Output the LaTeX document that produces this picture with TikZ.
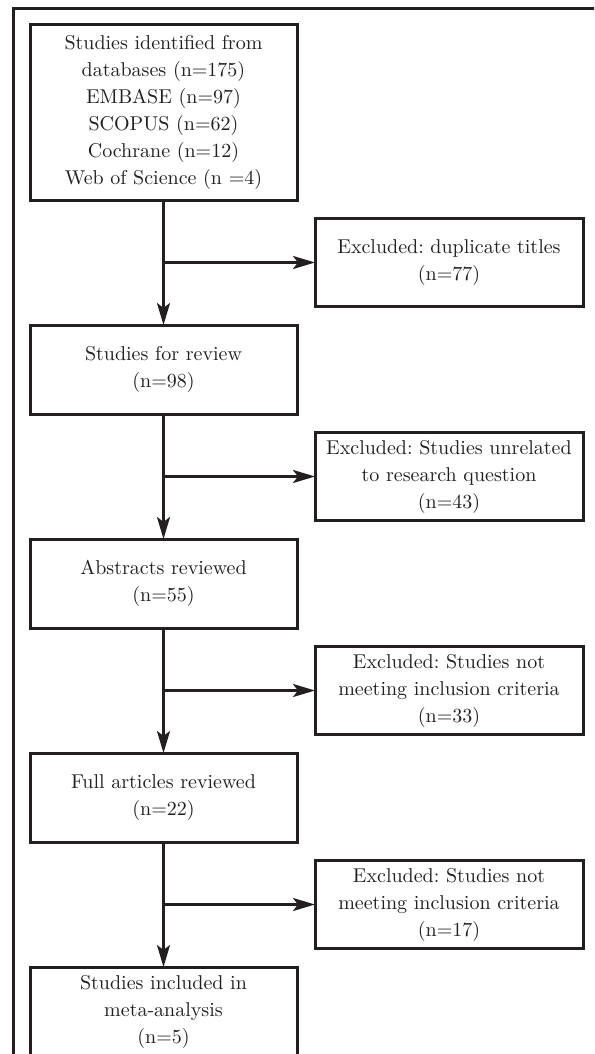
\documentclass[tikz,border=0pt]{standalone}
\usepackage{tikz}
\usetikzlibrary{arrows.meta,positioning}
\definecolor{ink}{RGB}{35,31,32}
\frenchspacing

\begin{document}
\begin{tikzpicture}[->,>={Stealth[length=11pt,width=6.5pt,inset=2.5pt]},line width=1.3pt,color=ink,node distance=62.5pt]
    \tikzstyle{every node}=[font=\fontsize{10}{13.5}\selectfont]
    \tikzstyle{box}=[draw,line width=1.5pt,align=center,text width=128pt,minimum width=133.5pt,minimum height=44.5pt,inner sep=0pt,outer sep=0pt]
    \tikzstyle{excl}=[box,minimum width=134pt,minimum height=44pt]
    \path[use as bounding box,clip] (0,0) rectangle (297pt,-527pt);
    % outer frame, cut off at right and bottom
    \draw[-,line width=1.5pt] (6.5pt,-540pt) |- (310pt,-4.5pt);
    \node[box,minimum height=87.5pt] (1) at (81.75pt,-56.25pt) {Studies identified from\\ databases (n=175)\\ EMBASE (n=97)\\ SCOPUS (n=62)\\ Cochrane (n=12)\\ Web of Science (n =4)};
    \node[box] (2) [below=of 1] {Studies for review\\ (n=98)};
    \node[box] (3) [below=of 2] {Abstracts reviewed\\ (n=55)};
    \node[box] (4) [below=of 3] {Full articles reviewed\\ (n=22)};
    \node[box] (5) [below=of 4] {Studies included in\\ meta-analysis\\ (n=5)};
    \coordinate [below=31.25pt of 1] (j1);
    \coordinate [below=31.25pt of 2] (j2);
    \coordinate [below=31.25pt of 3] (j3);
    \coordinate [below=31.25pt of 4] (j4);
    \node[excl] (e1) [right=75.75pt of j1] {Excluded: duplicate titles\\ (n=77)};
    \node[excl] (e2) [right=75.75pt of j2] {Excluded: Studies unrelated\\ to research question\\ (n=43)};
    \node[excl] (e3) [right=75.75pt of j3] {Excluded: Studies not\\ meeting inclusion criteria\\ (n=33)};
    \node[excl] (e4) [right=75.75pt of j4] {Excluded: Studies not\\ meeting inclusion criteria\\ (n=17)};
    \draw (1) -- (2);
    \draw (2) -- (3);
    \draw (3) -- (4);
    \draw (4) -- (5);
    \draw (j1) -- (e1);
    \draw (j2) -- (e2);
    \draw (j3) -- (e3);
    \draw (j4) -- (e4);
\end{tikzpicture}
\end{document}
